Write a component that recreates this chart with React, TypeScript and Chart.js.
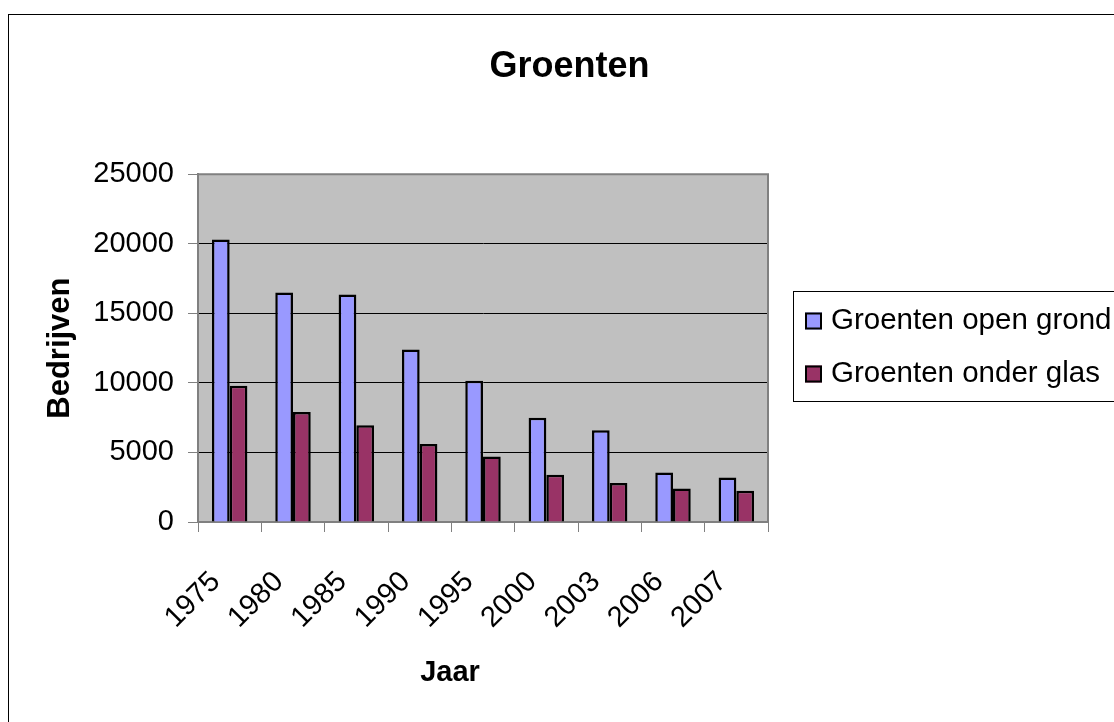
import { useEffect, useRef } from 'react';
import { Chart, registerables } from 'chart.js';

Chart.register(...registerables);

const categories = ['1975', '1980', '1985', '1990', '1995', '2000', '2003', '2006', '2007'];
const openGrond = [20300, 16500, 16350, 12400, 10150, 7500, 6600, 3550, 3200];
const onderGlas = [9800, 7900, 6950, 5600, 4700, 3400, 2800, 2400, 2250];
const seriesLabels = ['Groenten open grond', 'Groenten onder glas'];
const seriesColors = ['#9999FF', '#993366'];
const yTicks = [0, 5000, 10000, 15000, 20000, 25000];
const chartTitle = 'Groenten';
const xTitle = 'Jaar';
const yTitle = 'Bedrijven';

const FONT = '"Liberation Sans", Arial, Helvetica, sans-serif';

const decor = {
  id: 'decor',
  beforeDraw(chart: any) {
    const { ctx, chartArea: a } = chart;
    ctx.save();
    ctx.fillStyle = '#ffffff';
    ctx.fillRect(0, 0, chart.width, chart.height);
    ctx.fillStyle = '#C0C0C0';
    ctx.fillRect(a.left, a.top, a.right - a.left, a.bottom - a.top);
    ctx.strokeStyle = '#000000';
    ctx.lineWidth = 1;
    ctx.strokeRect(8.5, 14.5, chart.width + 50, chart.height + 50);
    ctx.restore();
  },
  afterDraw(chart: any) {
    const { ctx, chartArea: a } = chart;
    ctx.save();
    ctx.strokeStyle = '#808080';
    ctx.lineWidth = 2;
    ctx.beginPath();
    ctx.moveTo(a.left, a.top);
    ctx.lineTo(a.right, a.top);
    ctx.lineTo(a.right, a.bottom);
    ctx.stroke();

    // x axis title
    ctx.fillStyle = '#000000';
    ctx.font = `bold 29px ${FONT}`;
    ctx.textAlign = 'center';
    ctx.textBaseline = 'middle';
    ctx.fillText(xTitle, 450, 673);

    // legend
    ctx.strokeStyle = '#000000';
    ctx.lineWidth = 1;
    ctx.strokeRect(793.5, 291.5, chart.width, 110);
    chart.data.datasets.forEach((ds: any, i: number) => {
      const cy = 321 + i * 53;
      ctx.fillStyle = ds.backgroundColor;
      ctx.fillRect(805, cy - 8.5, 17, 17);
      ctx.strokeStyle = '#000000';
      ctx.lineWidth = 2;
      ctx.strokeRect(806, cy - 7.5, 15, 15);
      ctx.fillStyle = '#000000';
      ctx.font = `29.5px ${FONT}`;
      ctx.textAlign = 'left';
      ctx.textBaseline = 'middle';
      ctx.fillText(ds.label, 831, cy);
    });
    ctx.restore();
  },
};

export default function App() {
  const ref = useRef<HTMLCanvasElement | null>(null);
  useEffect(() => {
    if (!ref.current) return;
    const chart = new Chart(ref.current, {
      type: 'bar',
      data: {
        labels: categories,
        datasets: [
          {
            label: seriesLabels[0],
            data: openGrond,
            backgroundColor: seriesColors[0],
            borderColor: '#000000',
            borderWidth: 2.5,
            categoryPercentage: 0.56,
            barPercentage: 1,
          },
          {
            label: seriesLabels[1],
            data: onderGlas,
            backgroundColor: seriesColors[1],
            borderColor: '#000000',
            borderWidth: 2.5,
            categoryPercentage: 0.56,
            barPercentage: 1,
          },
        ],
      },
      options: {
        responsive: false,
        animation: false,
        events: [],
        layout: { padding: { left: 25, right: 0, top: 0, bottom: 0 } },
        plugins: {
          legend: { display: false },
          tooltip: { enabled: false },
          title: {
            display: true,
            text: chartTitle,
            color: '#000000',
            font: { family: FONT, size: 36, weight: 'bold' },
            padding: { top: 45, bottom: 86 },
          },
        },
        scales: {
          x: {
            offset: true,
            grid: {
              display: true,
              drawOnChartArea: false,
              drawTicks: true,
              tickLength: 10,
              tickColor: '#808080',
              tickWidth: 1,
              offset: true,
            },
            border: { display: true, color: '#808080', width: 2 },
            ticks: {
              color: '#000000',
              font: { family: FONT, size: 29 },
              minRotation: 45,
              maxRotation: 45,
              autoSkip: false,
              padding: 33,
              labelOffset: -14,
            },
            afterFit(scale: any) {
              scale.height = 200;
            },
          },
          y: {
            position: 'left',
            min: 0,
            max: 25000,
            afterBuildTicks(scale: any) {
              scale.ticks = yTicks.map((v) => ({ value: v }));
            },
            grid: {
              color: '#000000',
              lineWidth: 1,
              tickLength: 10,
              tickColor: '#808080',
              tickWidth: 1,
            },
            border: { display: true, color: '#808080', width: 2 },
            ticks: {
              color: '#000000',
              font: { family: FONT, size: 29 },
              padding: 14,
              callback: (v: any) => String(v),
            },
            title: {
              display: true,
              text: yTitle,
              color: '#000000',
              font: { family: FONT, size: 31, weight: 'bold' },
              padding: { top: 17, bottom: 0 },
            },
            afterFit(scale: any) {
              scale.width = 173;
            },
          },
          spacer: {
            type: 'linear',
            position: 'right',
            display: true,
            grid: { display: false, drawTicks: false },
            border: { display: false },
            ticks: { display: false },
            afterFit(scale: any) {
              scale.width = 346;
            },
          },
        },
      },
      plugins: [decor],
    } as any);
    return () => chart.destroy();
  }, []);

  return (
    <div style={{ position: 'absolute', left: 0, top: 0, width: 1114, height: 722, overflow: 'hidden', background: '#fff' }}>
      <canvas ref={ref} width={1114} height={722} style={{ width: 1114, height: 722, display: 'block' }} />
    </div>
  );
}
